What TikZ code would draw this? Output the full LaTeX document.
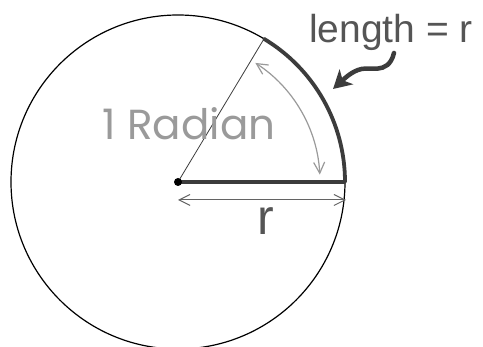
\documentclass[tikz,border=0pt]{standalone}
\usepackage{fontspec}
\setmainfont{Liberation Sans}
\newfontfamily\radfont{Poppins}
\usetikzlibrary{arrows.meta,calc}
\definecolor{dk}{HTML}{3C3C3C}
\definecolor{lab}{HTML}{555555}
\definecolor{gr}{HTML}{9A9A9A}
\tikzset{
  thickdark/.style={draw=dk,line width=3.8pt},
  openarrow/.style={{Straight Barb[length=11pt,width=11pt]}-{Straight Barb[length=11pt,width=11pt]}},
}
\begin{document}
\begin{tikzpicture}[x=1pt,y=1pt]
\useasboundingbox (0,0) rectangle (483,347);
\fill[white] (0,0) rectangle (483,347);
\coordinate (c) at (178,165);
\coordinate (e) at ($(c)+(59:167)$);
\coordinate (r0) at ($(c)+(0:167)$);
% circle
\draw[black,line width=1.2pt] (c) circle[radius=167];
% thin radius
\draw[dk,line width=0.8pt] (c) -- (e);
% thick arc and thick radius
\draw[thickdark,line cap=round] (r0) arc[start angle=0,end angle=59,radius=167];
\draw[thickdark] (c) -- (r0);
\fill[black] (c) circle[radius=4];
% angle arrow
\draw[gr,line width=1.2pt,openarrow] ($(c)+(3:142)$) arc[start angle=3,end angle=57,radius=142];
% r arrow
\coordinate (ha) at (178,147);
\coordinate (hb) at (346,147);
\draw[dk!80,line width=1pt,openarrow] (ha) -- (hb);
% labels
\node[text=lab,font=\fontsize{50}{50}\selectfont,inner sep=0pt] (rl) at (266,126) {r};
\node[text=gr,font=\radfont\fontsize{42}{42}\selectfont,inner sep=0pt] (rad) at (189,223) {1 Radian};
\node[text=lab,font=\fontsize{39}{39}\selectfont,inner sep=0pt,anchor=base west] (len) at (309,304) {length = r};
% squiggle arrow
\coordinate (s0) at (394,294);
\coordinate (s1) at (333,258);
\draw[dk,line width=4.5pt,line cap=round,-{Stealth[length=18pt,width=20pt,inset=5pt]}] (s0) .. controls (388,270) and (368,282) .. (358,277) .. controls (350,274) and (344,268) .. (s1);
\end{tikzpicture}
\end{document}
